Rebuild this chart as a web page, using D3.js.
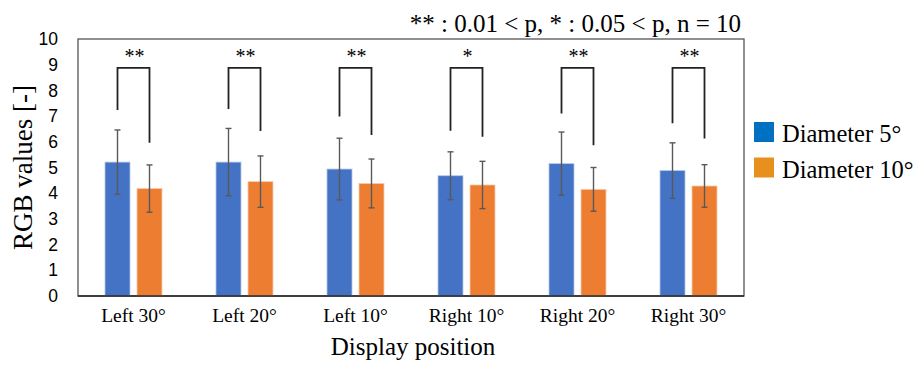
<!DOCTYPE html>
<html lang="en">
<head>
    <meta charset="UTF-8">
    <title>RGB values by display position</title>
    <script src="https://d3js.org/d3.v7.min.js"></script>
    <style>
        body { margin: 0; background: #fff; }
        text { fill: #000; }
    </style>
</head>
<body>
<svg id="chart"></svg>
<script>
    // values
    const categories = ["Left 30°", "Left 20°", "Left 10°", "Right 10°", "Right 20°", "Right 30°"];
    const dia5 = [5.21, 5.21, 4.94, 4.68, 5.15, 4.88];
    const dia5sd = [1.25, 1.31, 1.2, 0.93, 1.23, 1.08];
    const dia10 = [4.18, 4.45, 4.38, 4.32, 4.15, 4.28];
    const dia10sd = [0.92, 1.0, 0.95, 0.92, 0.85, 0.83];
    const sigMarks = ["**", "**", "**", "*", "**", "**"];
    const legLeftEnd = [7.24, 7.28, 6.98, 6.43, 7.1, 6.72];
    const legRightEnd = [5.96, 6.42, 6.26, 6.2, 5.87, 6.13];
    const bracketTop = 8.88;
    const yTicks = d3.range(0, 11);
    const seriesNames = ["Diameter 5°", "Diameter 10°"];

    const serif = '"Liberation Serif", "Times New Roman", serif';
    const sans = '"Liberation Sans", Arial, sans-serif';

    const width = 914, height = 368;
    const m = {l: 78, r: 170, t: 39, b: 72};
    const svg = d3.select('#chart').attr('width', width).attr('height', height);

    const x = d3.scaleBand().domain(categories).range([m.l, width - m.r]).padding(0);
    const y = d3.scaleLinear().domain([0, 10]).range([height - m.b, m.t]);
    const barW = 25, gap = 7;
    const barColors = ['#4472C4', '#ED7D31'];
    const legendColors = ['#0070C0', '#E8901D'];

    const rows = categories.map((c, i) => ({
        c, i,
        vals: [dia5[i], dia10[i]],
        sds: [dia5sd[i], dia10sd[i]]
    }));
    const barX = (d, k) => x(d.c) + x.bandwidth() / 2 + (k === 0 ? -gap / 2 - barW : gap / 2);
    const barMid = (d, k) => barX(d, k) + barW / 2;

    // plot frame
    svg.append('rect')
        .attr('x', m.l).attr('y', m.t)
        .attr('width', width - m.r - m.l).attr('height', y(0) - m.t)
        .attr('fill', 'none').attr('stroke', '#555').attr('stroke-width', 1.3);

    // bars
    const g = svg.selectAll('g.cat').data(rows).join('g').attr('class', 'cat');
    [0, 1].forEach(k => {
        g.append('rect')
            .attr('x', d => barX(d, k))
            .attr('y', d => y(d.vals[k]))
            .attr('width', barW)
            .attr('height', d => y(0) - y(d.vals[k]))
            .attr('fill', barColors[k])
            .attr('stroke', k === 0 ? '#b4c7e7' : '#f8cbad')
            .attr('stroke-width', 0.8);
        // error bars
        const eb = g.append('g').attr('stroke', '#595959').attr('stroke-width', 1.4);
        eb.append('line')
            .attr('x1', d => barMid(d, k)).attr('x2', d => barMid(d, k))
            .attr('y1', d => y(d.vals[k] + d.sds[k])).attr('y2', d => y(d.vals[k] - d.sds[k]));
        [1, -1].forEach(s => {
            eb.append('line')
                .attr('x1', d => barMid(d, k) - 3).attr('x2', d => barMid(d, k) + 3)
                .attr('y1', d => y(d.vals[k] + s * d.sds[k])).attr('y2', d => y(d.vals[k] + s * d.sds[k]));
        });
    });

    // bottom axis line
    svg.append('line')
        .attr('x1', m.l).attr('x2', width - m.r)
        .attr('y1', y(0)).attr('y2', y(0))
        .attr('stroke', '#222').attr('stroke-width', 1.5);

    // significance brackets
    g.append('path')
        .attr('d', d => `M${barMid(d, 0)},${y(legLeftEnd[d.i])}V${y(bracketTop)}H${barMid(d, 1)}V${y(legRightEnd[d.i])}`)
        .attr('fill', 'none').attr('stroke', '#222').attr('stroke-width', 1.8);
    g.append('text')
        .attr('x', d => x(d.c) + x.bandwidth() / 2 + 1)
        .attr('y', 63)
        .attr('text-anchor', 'middle')
        .attr('font-family', serif)
        .attr('font-size', 20)
        .text(d => sigMarks[d.i]);

    // y tick labels (no tick marks)
    svg.selectAll('text.ytick').data(yTicks).join('text')
        .attr('class', 'ytick')
        .attr('x', 58)
        .attr('y', d => y(d))
        .attr('dy', '0.35em')
        .attr('text-anchor', 'end')
        .attr('font-family', sans)
        .attr('font-size', 17.5)
        .text(d => d);

    // x tick labels
    svg.selectAll('text.xtick').data(categories).join('text')
        .attr('class', 'xtick')
        .attr('x', d => x(d) + x.bandwidth() / 2)
        .attr('y', 322)
        .attr('text-anchor', 'middle')
        .attr('font-family', serif)
        .attr('font-size', 19.5)
        .text(d => d);

    // axis titles
    svg.append('text')
        .attr('x', 413).attr('y', 355)
        .attr('text-anchor', 'middle')
        .attr('font-family', serif)
        .attr('font-size', 25)
        .text('Display position');
    svg.append('text')
        .attr('transform', `translate(32,${(m.t + y(0)) / 2}) rotate(-90)`)
        .attr('text-anchor', 'middle')
        .attr('font-family', serif)
        .attr('font-size', 27)
        .text('RGB values [-]');

    // note at top right
    svg.append('text')
        .attr('x', 741).attr('y', 32)
        .attr('text-anchor', 'end')
        .attr('font-family', serif)
        .attr('font-size', 25)
        .text('** : 0.01 < p, * : 0.05 < p, n = 10');

    // legend
    const lg = svg.selectAll('g.legend').data(seriesNames).join('g')
        .attr('class', 'legend')
        .attr('transform', (d, i) => `translate(754,${122 + i * 35.5})`);
    lg.append('rect').attr('width', 20).attr('height', 20).attr('fill', (d, i) => legendColors[i]);
    lg.append('text')
        .attr('x', 28).attr('y', 20)
        .attr('font-family', serif)
        .attr('font-size', 24.5)
        .text(d => d);
</script>
</body>
</html>
